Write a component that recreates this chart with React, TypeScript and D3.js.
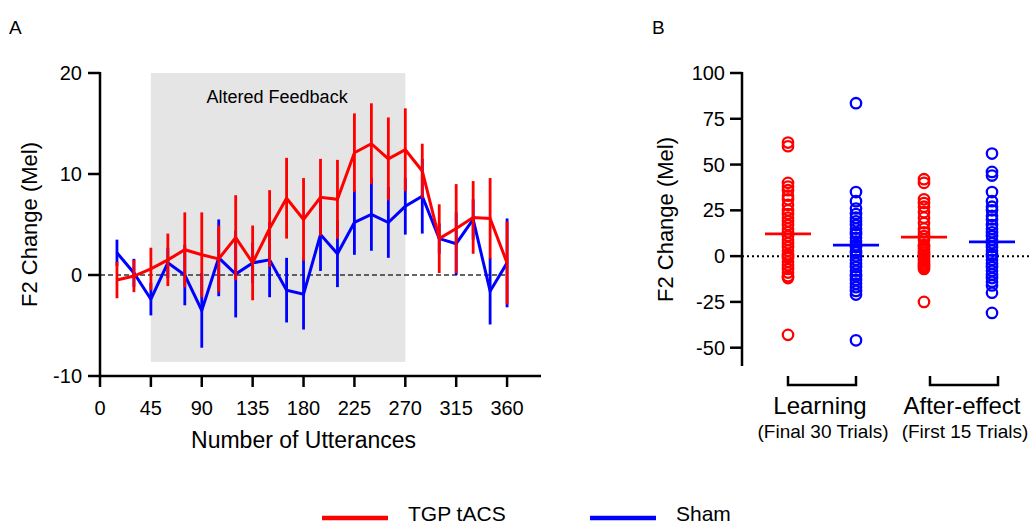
import React from "react";
import { scaleLinear, scalePoint, line } from "d3";

// panel A: mean +- SEM every 15 utterances
const utterances = [15, 30, 45, 60, 75, 90, 105, 120, 135, 150, 165, 180, 195, 210, 225, 240, 255, 270, 285, 300, 315, 330, 345, 360];
const tgpMean = [-0.5, -0.1, 0.6, 1.5, 2.5, 2.0, 1.6, 3.7, 1.2, 4.6, 7.6, 5.5, 7.7, 7.5, 12.1, 13.0, 11.5, 12.4, 10.3, 3.6, 4.6, 5.7, 5.6, 1.2];
const tgpSem = [1.8, 1.6, 2.1, 2.6, 3.7, 4.2, 3.3, 4.2, 3.7, 3.8, 4.0, 4.1, 3.8, 3.9, 3.9, 4.0, 4.1, 4.1, 2.7, 3.4, 4.4, 3.6, 4.0, 4.1];
const shamMean = [2.2, 0.2, -2.4, 1.2, 0.0, -3.5, 1.7, 0.1, 1.2, 1.5, -1.5, -1.9, 4.0, 2.1, 5.2, 6.0, 5.2, 6.8, 7.8, 3.6, 3.1, 5.5, -1.6, 1.2];
const shamSem = [1.3, 1.4, 1.6, 1.5, 3.0, 3.7, 3.8, 4.3, 2.0, 3.7, 3.2, 3.5, 3.6, 3.3, 3.2, 3.6, 3.5, 2.8, 3.7, 1.5, 3.1, 2.0, 3.3, 4.4];
const xTicksA = [0, 45, 90, 135, 180, 225, 270, 315, 360];
const yTicksA = [-10, 0, 10, 20];
const feedbackWindow = [45, 270];

// panel B: individual participants
const columns = ["learnTgp", "learnSham", "afterTgp", "afterSham"];
const learnTgp = [62, 60, 40, 38, 36, 33, 31, 28, 25, 23, 21, 19, 17, 15, 13, 11, 9, 7, 5, 3, 1, 0, -1, -3, -5, -7, -9, -11, -12, -43];
const learnSham = [83.5, 35, 30, 26, 23, 21, 19, 17, 15, 13, 12, 10, 8, 6, 5, 3, 2, 0, -2, -4, -6, -8, -10, -11, -13, -15, -17, -19, -21, -46];
const afterTgp = [42, 40, 31, 29, 27, 24, 21, 18, 15, 13, 11, 9, 6, 5, 4, 3, 2, 1, 0, -1, -2, -3, -4, -5, -6, -7, -25];
const afterSham = [56, 46, 44, 35, 30, 27, 25, 22, 20, 17, 15, 13, 11, 9, 7, 5, 3, 1, 0, -2, -4, -6, -8, -10, -12, -14, -16, -20, -31];
const columnMeans = [12.2, 6.0, 10.4, 7.8];
const yTicksB = [-50, -25, 0, 25, 50, 75, 100];
const groups = [
  { name: "Learning", sub: "(Final 30 Trials)", cols: ["learnTgp", "learnSham"] },
  { name: "After-effect", sub: "(First 15 Trials)", cols: ["afterTgp", "afterSham"] }
];

const RED = "#ff0000";
const BLUE = "#0000ff";
const FONT = "'Liberation Sans', Arial, sans-serif";

const PanelA = () => {
  const x = scaleLinear().domain([0, 390]).range([100, 541]);
  const y = scaleLinear().domain([-10, 20]).range([376, 73]);

  const series = [
    { mean: shamMean, sem: shamSem, color: BLUE },
    { mean: tgpMean, sem: tgpSem, color: RED }
  ];

  return (
    <g>
      <rect
        x={x(feedbackWindow[0])}
        y={y(20)}
        width={x(feedbackWindow[1]) - x(feedbackWindow[0])}
        height={y(-8.6) - y(20)}
        fill="#e5e5e5"
      />
      <text x={(x(45) + x(270)) / 2 - 1} y={103} textAnchor="middle" fontSize={18}>
        Altered Feedback
      </text>
      <line x1={x(0)} x2={x(360)} y1={y(0)} y2={y(0)} stroke="#333" strokeWidth={1.3} strokeDasharray="5,3" />

      {series.map((s, si) => {
        const path = line<number>()
          .x((d, i) => x(utterances[i]))
          .y(d => y(d))(s.mean);
        return (
          <g key={si}>
            {s.mean.map((m, i) => (
              <line
                key={i}
                x1={x(utterances[i])}
                x2={x(utterances[i])}
                y1={y(m - s.sem[i])}
                y2={y(m + s.sem[i])}
                stroke={s.color}
                strokeWidth={2.8}
              />
            ))}
            <path d={path || ""} fill="none" stroke={s.color} strokeWidth={3} strokeLinejoin="miter" />
          </g>
        );
      })}

      {/* axes */}
      <line x1={100} x2={100} y1={y(20) - 1} y2={y(-10) + 1} stroke="#000" strokeWidth={2.5} />
      <line x1={100} x2={x(390)} y1={y(-10)} y2={y(-10)} stroke="#000" strokeWidth={2.5} />
      {yTicksA.map(t => (
        <g key={t}>
          <line x1={88} x2={100} y1={y(t)} y2={y(t)} stroke="#000" strokeWidth={2.5} />
          <text x={82} y={y(t) + 7} textAnchor="end" fontSize={20}>{t}</text>
        </g>
      ))}
      {xTicksA.map(t => (
        <g key={t}>
          <line x1={x(t)} x2={x(t)} y1={y(-10)} y2={y(-10) + 11} stroke="#000" strokeWidth={2.5} />
          <text x={x(t)} y={415} textAnchor="middle" fontSize={20}>{t}</text>
        </g>
      ))}
      <text x={(x(0) + x(360)) / 2} y={448} textAnchor="middle" fontSize={23}>
        Number of Utterances
      </text>
      <text transform={`translate(37,${y(5)}) rotate(-90)`} textAnchor="middle" fontSize={22}>
        F2 Change (Mel)
      </text>
    </g>
  );
};

const PanelB = () => {
  const y = scaleLinear().domain([-60, 100]).range([366, 73]);
  const x = scalePoint().domain(columns).range([788, 992]);
  const values: Record<string, number[]> = { learnTgp, learnSham, afterTgp, afterSham };
  const colors = [RED, BLUE, RED, BLUE];

  return (
    <g>
      <line x1={742} x2={1031} y1={y(0)} y2={y(0)} stroke="#000" strokeWidth={2} strokeDasharray="2,3" />
      {columns.map((c, ci) => (
        <g key={c}>
          {values[c].map((v, i) => (
            <circle key={i} cx={x(c)} cy={y(v)} r={5.2} fill="none" stroke={colors[ci]} strokeWidth={2.3} />
          ))}
          <line
            x1={(x(c) as number) - 23}
            x2={(x(c) as number) + 23}
            y1={y(columnMeans[ci])}
            y2={y(columnMeans[ci])}
            stroke={colors[ci]}
            strokeWidth={2.8}
          />
        </g>
      ))}

      <line x1={742} x2={742} y1={y(100) - 1} y2={y(-60)} stroke="#000" strokeWidth={2.5} />
      {yTicksB.map(t => (
        <g key={t}>
          <line x1={730} x2={742} y1={y(t)} y2={y(t)} stroke="#000" strokeWidth={2.5} />
          <text x={725} y={y(t) + 7} textAnchor="end" fontSize={20}>{t}</text>
        </g>
      ))}
      <text transform={`translate(673,${y(20)}) rotate(-90)`} textAnchor="middle" fontSize={22}>
        F2 Change (Mel)
      </text>

      {groups.map((g, gi) => {
        const x0 = (x(g.cols[0]) as number) + gi * 6;
        const x1 = (x(g.cols[1]) as number) + gi * 6;
        const cx = (x0 + x1) / 2;
        return (
          <g key={g.name}>
            <path d={`M${x0},376V385H${x1}V376`} fill="none" stroke="#000" strokeWidth={2.5} />
            <text x={cx - 2} y={414} textAnchor="middle" fontSize={24}>{g.name}</text>
            <text x={cx + 1} y={438} textAnchor="middle" fontSize={19}>{g.sub}</text>
          </g>
        );
      })}
    </g>
  );
};

const Legend = () => {
  const items = [
    { label: "TGP tACS", color: RED, x: 322 },
    { label: "Sham", color: BLUE, x: 590 }
  ];
  return (
    <g>
      {items.map(it => (
        <g key={it.label}>
          <line x1={it.x} x2={it.x + 66} y1={518} y2={518} stroke={it.color} strokeWidth={4.5} />
          <text x={it.x + 86} y={521} fontSize={21}>{it.label}</text>
        </g>
      ))}
    </g>
  );
};

export default function App() {
  return (
    <svg
      width={1033}
      height={527}
      style={{ position: "fixed", left: 0, top: 0, background: "#fff" }}
      fontFamily={FONT}
    >
      <text x={9} y={34} fontSize={19}>A</text>
      <text x={652} y={34} fontSize={19}>B</text>
      <PanelA />
      <PanelB />
      <Legend />
    </svg>
  );
}
